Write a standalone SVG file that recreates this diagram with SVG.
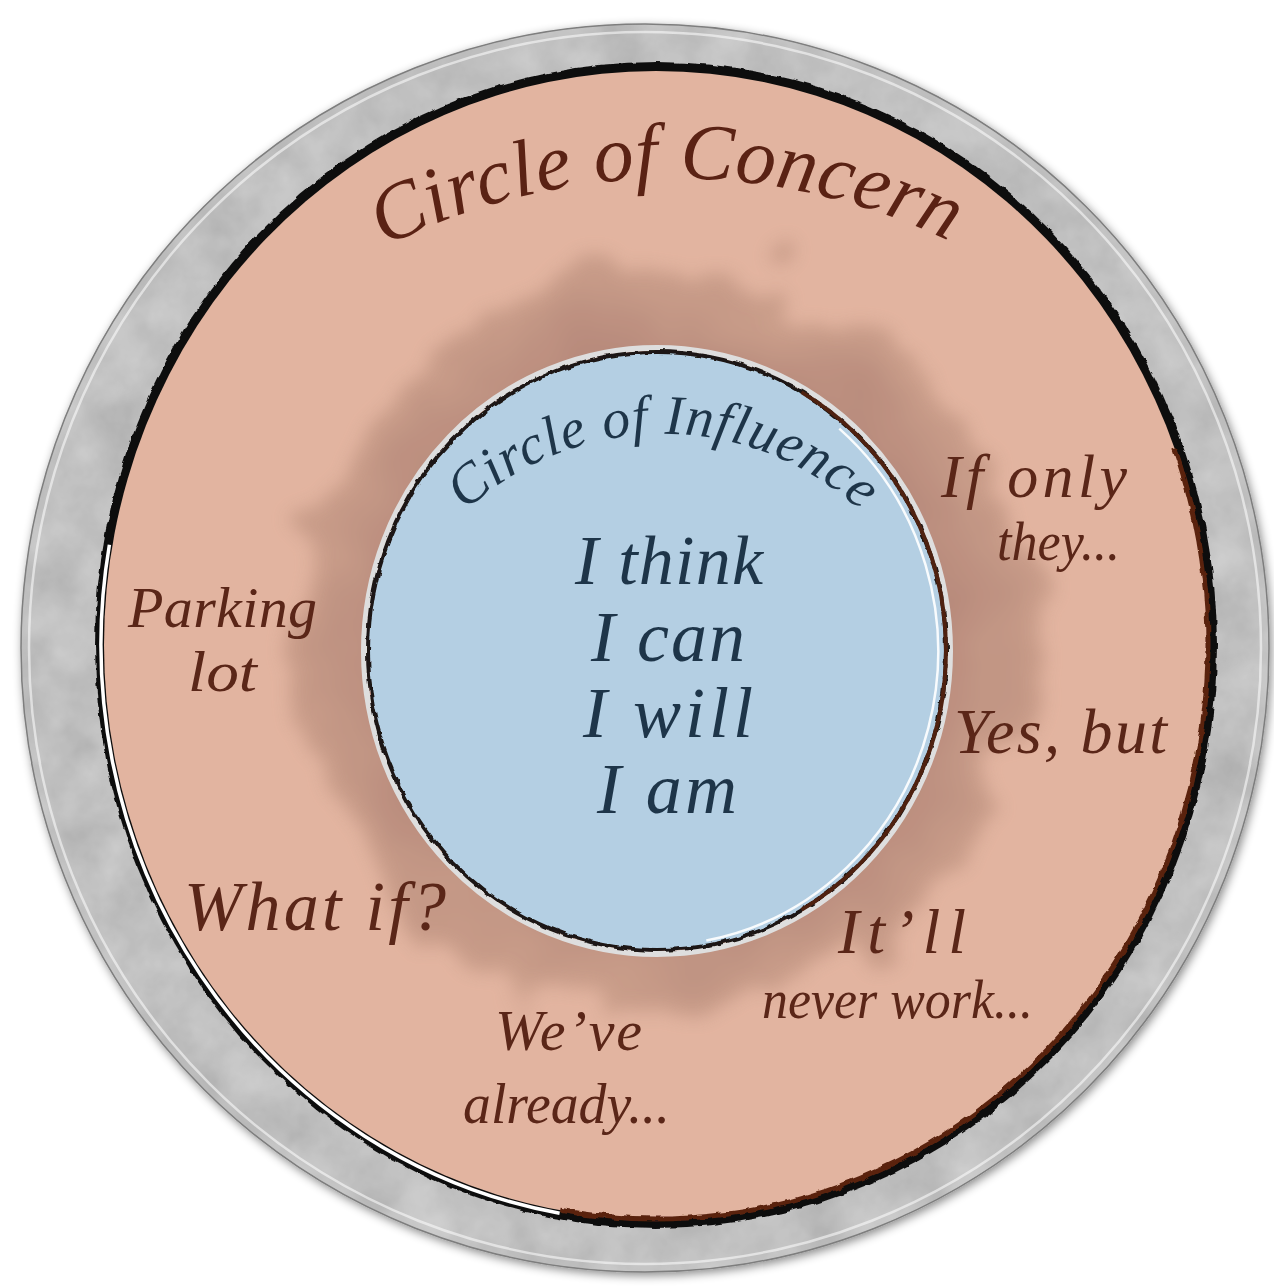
<svg xmlns="http://www.w3.org/2000/svg" width="1274" height="1288" viewBox="0 0 1274 1288">
  <defs>
    <style>
      .lbl { font-family: "Liberation Serif", "DejaVu Serif", serif; font-style: italic; fill: #5a2618; }
      .title { font-family: "Liberation Serif", "DejaVu Serif", serif; font-style: italic; fill: #5a2214; }
      .blue { font-family: "Liberation Serif", "DejaVu Serif", serif; font-style: italic; fill: #1e3549; }
    </style>
    <filter id="drop" x="-5%" y="-5%" width="110%" height="110%">
      <feDropShadow dx="2" dy="3" stdDeviation="5" flood-color="#000" flood-opacity="0.45"/>
    </filter>
    <filter id="mottle" x="0" y="0" width="1" height="1">
      <feTurbulence type="fractalNoise" baseFrequency="0.02" numOctaves="4" seed="7" result="t"/>
      <feColorMatrix in="t" type="matrix" values="0.33 0.33 0.33 0 0 0.33 0.33 0.33 0 0 0.33 0.33 0.33 0 0 0 0 0 0 1" result="g"/>
      <feComposite in="SourceGraphic" in2="g" operator="arithmetic" k1="0" k2="1" k3="0.4" k4="-0.22" result="c"/>
      <feComposite in="c" in2="SourceAlpha" operator="in"/>
    </filter>
    <filter id="rough" x="-5%" y="-5%" width="110%" height="110%">
      <feTurbulence type="fractalNoise" baseFrequency="0.09" numOctaves="2" seed="2" result="n"/>
      <feDisplacementMap in="SourceGraphic" in2="n" scale="5" xChannelSelector="R" yChannelSelector="G"/>
    </filter>
    <filter id="smoke" x="-30%" y="-30%" width="160%" height="160%">
      <feTurbulence type="fractalNoise" baseFrequency="0.011" numOctaves="3" seed="11" result="n"/>
      <feDisplacementMap in="SourceGraphic" in2="n" scale="110" xChannelSelector="R" yChannelSelector="G" result="d"/>
      <feGaussianBlur in="d" stdDeviation="9"/>
    </filter>
    <radialGradient id="smokeGrad" cx="0.5" cy="0.5" r="0.5">
      <stop offset="0" stop-color="#b07e6c"/>
      <stop offset="0.75" stop-color="#b5887a"/>
      <stop offset="1" stop-color="#c89c88"/>
    </radialGradient>
    <path id="arcConcern" d="M 353 264 A 640 640 0 0 1 993 264"/>
    <path id="arcInfluence" d="M 456.5 519.5 A 292 292 0 0 1 869.5 519.5"/>
  </defs>

  <rect width="1274" height="1288" fill="#ffffff"/>

  <g id="frame" filter="url(#drop)">
    <circle cx="645" cy="648" r="624" fill="#c4c4c4" filter="url(#mottle)"/>
    <circle cx="645" cy="648" r="624" fill="none" stroke="#7e7e7e" stroke-width="1.5"/>
    <circle cx="645" cy="648" r="616" fill="none" stroke="#ffffff" stroke-width="2.5" opacity="0.55"/>
  </g>

  <g id="circle-of-concern">
    <ellipse cx="656" cy="645" rx="561" ry="583" fill="#111111" filter="url(#rough)"/>
    <path d="M 559.6 1213.2 A 555 577 0 0 1 109.4 544.8" fill="none" stroke="#ffffff" stroke-width="3.5"/>
    <ellipse cx="656" cy="645" rx="552" ry="574" fill="#e2b4a0"/>
    <path d="M 1174.7 448.7 A 552 574 0 0 1 560.2 1210.3" fill="none" stroke="#5a2410" stroke-width="5" filter="url(#rough)"/>
  </g>

  <g id="shadow">
    <ellipse cx="668" cy="640" rx="368" ry="372" fill="url(#smokeGrad)" filter="url(#smoke)" opacity="0.92"/>
  </g>

  <g id="circle-of-influence">
    <ellipse cx="657" cy="651" rx="293" ry="303" fill="none" stroke="#dedede" stroke-width="6"/>
    <ellipse cx="657" cy="651" rx="289" ry="299" fill="#b4cfe3"/>
    <ellipse cx="657" cy="651" rx="289" ry="299" fill="none" stroke="#1b1412" stroke-width="4" filter="url(#rough)"/>
    <path d="M 801.5 392.1 A 289 299 0 0 1 801.5 909.9" fill="none" stroke="#4e2110" stroke-width="4"/>
    <path d="M 839.3 428.6 A 284 294 0 0 1 706.3 940.5" fill="none" stroke="#ffffff" stroke-width="2.5" opacity="0.9"/>
  </g>

  <g id="labels-concern">
    <text class="title" font-size="80"><textPath href="#arcConcern" startOffset="49%" text-anchor="middle" textLength="585" lengthAdjust="spacing">Circle of Concern</textPath></text>
    <text class="lbl" font-size="58" x="128" y="627" textLength="189" lengthAdjust="spacing">Parking</text>
    <text class="lbl" font-size="56" x="188" y="691" textLength="69" lengthAdjust="spacingAndGlyphs">lot</text>
    <text class="lbl" font-size="70" x="184" y="930" textLength="262" lengthAdjust="spacing">What if?</text>
    <text class="lbl" font-size="58" x="495" y="1050" textLength="147" lengthAdjust="spacing">We’ve</text>
    <text class="lbl" font-size="58" x="463" y="1123" textLength="207" lengthAdjust="spacingAndGlyphs">already...</text>
    <text class="lbl" font-size="64" x="838" y="953" textLength="128" lengthAdjust="spacing">It’ll</text>
    <text class="lbl" font-size="54" x="762" y="1018" textLength="271" lengthAdjust="spacingAndGlyphs">never work...</text>
    <text class="lbl" font-size="62" x="941" y="497" textLength="186" lengthAdjust="spacing">If only</text>
    <text class="lbl" font-size="54" x="997" y="560" textLength="123" lengthAdjust="spacingAndGlyphs">they...</text>
    <text class="lbl" font-size="64" x="954" y="753" textLength="213" lengthAdjust="spacing">Yes, but</text>
  </g>

  <g id="labels-influence">
    <text class="blue" font-size="56"><textPath href="#arcInfluence" startOffset="50%" text-anchor="middle" textLength="434" lengthAdjust="spacing">Circle of Influence</textPath></text>
    <text class="blue" font-size="70" x="575" y="584" textLength="188" lengthAdjust="spacing">I think</text>
    <text class="blue" font-size="72" x="591" y="661" textLength="154" lengthAdjust="spacing">I can</text>
    <text class="blue" font-size="72" x="583" y="737" textLength="170" lengthAdjust="spacing">I will</text>
    <text class="blue" font-size="72" x="597" y="813" textLength="140" lengthAdjust="spacing">I am</text>
  </g>
</svg>
